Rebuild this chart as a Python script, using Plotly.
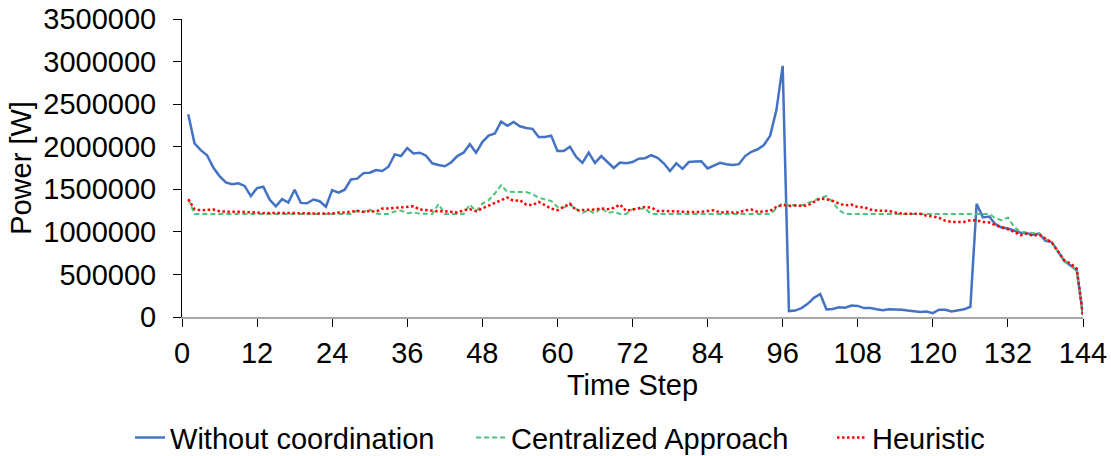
import plotly.graph_objects as go

time_steps = list(range(1, 145))

without_coordination = [
    2380000, 2040000, 1960000, 1900000, 1755000, 1655000, 1580000, 1560000, 1570000, 1540000,
    1420000, 1515000, 1530000, 1380000, 1300000, 1385000, 1345000, 1495000, 1340000, 1335000,
    1380000, 1360000, 1295000, 1490000, 1460000, 1495000, 1615000, 1625000, 1690000, 1695000,
    1725000, 1715000, 1765000, 1910000, 1890000, 1985000, 1920000, 1930000, 1895000, 1805000,
    1785000, 1770000, 1815000, 1890000, 1930000, 2030000, 1930000, 2055000, 2130000, 2155000,
    2295000, 2245000, 2290000, 2240000, 2220000, 2210000, 2115000, 2115000, 2130000, 1950000,
    1950000, 2000000, 1880000, 1810000, 1930000, 1810000, 1890000, 1825000, 1750000, 1815000,
    1805000, 1820000, 1860000, 1865000, 1900000, 1870000, 1805000, 1715000, 1805000, 1740000,
    1820000, 1825000, 1830000, 1745000, 1775000, 1810000, 1795000, 1785000, 1795000, 1890000,
    1940000, 1970000, 2020000, 2130000, 2430000, 2950000, 70000, 75000, 105000, 155000,
    225000, 270000, 90000, 95000, 115000, 110000, 135000, 130000, 105000, 105000,
    90000, 80000, 90000, 90000, 85000, 75000, 65000, 60000, 65000, 45000,
    85000, 85000, 65000, 75000, 90000, 120000, 1330000, 1170000, 1180000, 1090000,
    1050000, 1040000, 1015000, 990000, 985000, 965000, 980000, 895000, 880000, 770000,
    660000, 605000, 550000, 20000,
]

centralized = [
    1385000, 1210000, 1210000, 1210000, 1210000, 1210000, 1210000, 1210000, 1210000, 1210000,
    1210000, 1210000, 1210000, 1210000, 1210000, 1210000, 1210000, 1210000, 1210000, 1210000,
    1210000, 1210000, 1210000, 1210000, 1210000, 1210000, 1210000, 1250000, 1235000, 1260000,
    1215000, 1210000, 1210000, 1240000, 1250000, 1220000, 1225000, 1215000, 1210000, 1210000,
    1325000, 1210000, 1210000, 1210000, 1210000, 1320000, 1242000, 1332000, 1372000, 1450000,
    1548000, 1470000, 1470000, 1470000, 1468000, 1442000, 1403000, 1380000, 1364000, 1293000,
    1285000, 1321000, 1266000, 1223000, 1254000, 1215000, 1285000, 1223000, 1235000, 1210000,
    1210000, 1266000, 1266000, 1274000, 1210000, 1210000, 1210000, 1210000, 1210000, 1210000,
    1210000, 1210000, 1210000, 1210000, 1210000, 1210000, 1210000, 1210000, 1210000, 1210000,
    1210000, 1210000, 1210000, 1210000, 1274000, 1340000, 1313000, 1310000, 1310000, 1340000,
    1364000, 1400000, 1419000, 1352000, 1254000, 1210000, 1210000, 1210000, 1210000, 1210000,
    1210000, 1210000, 1210000, 1210000, 1210000, 1210000, 1210000, 1210000, 1210000, 1210000,
    1210000, 1210000, 1210000, 1210000, 1210000, 1210000, 1210000, 1210000, 1210000, 1160000,
    1137000, 1168000, 1058000, 1000000, 992000, 980000, 980000, 913000, 882000, 772000,
    654000, 615000, 548000, 20000,
]

heuristic = [
    1383000, 1266000, 1254000, 1254000, 1262000, 1242000, 1235000, 1235000, 1235000, 1235000,
    1227000, 1227000, 1220000, 1222000, 1218000, 1220000, 1225000, 1222000, 1218000, 1218000,
    1215000, 1215000, 1218000, 1215000, 1227000, 1227000, 1238000, 1246000, 1235000, 1246000,
    1235000, 1274000, 1274000, 1281000, 1285000, 1293000, 1301000, 1262000, 1254000, 1246000,
    1242000, 1242000, 1235000, 1227000, 1254000, 1266000, 1242000, 1274000, 1301000, 1332000,
    1364000, 1403000, 1364000, 1372000, 1321000, 1313000, 1352000, 1313000, 1274000, 1254000,
    1293000, 1332000, 1254000, 1254000, 1262000, 1262000, 1274000, 1266000, 1281000, 1321000,
    1246000, 1262000, 1270000, 1293000, 1285000, 1246000, 1246000, 1242000, 1238000, 1235000,
    1235000, 1231000, 1235000, 1246000, 1254000, 1227000, 1235000, 1227000, 1227000, 1254000,
    1262000, 1235000, 1242000, 1246000, 1293000, 1317000, 1305000, 1310000, 1305000, 1310000,
    1352000, 1391000, 1384000, 1364000, 1333000, 1310000, 1320000, 1290000, 1290000, 1262000,
    1250000, 1246000, 1246000, 1227000, 1215000, 1212000, 1215000, 1212000, 1190000, 1182000,
    1164000, 1129000, 1117000, 1117000, 1117000, 1137000, 1133000, 1117000, 1110000, 1078000,
    1058000, 1031000, 1000000, 960000, 980000, 953000, 968000, 921000, 874000, 772000,
    666000, 627000, 568000, 20000,
]

x_ticks = [0, 12, 24, 36, 48, 60, 72, 84, 96, 108, 120, 132, 144]
y_ticks = [0, 500000, 1000000, 1500000, 2000000, 2500000, 3000000, 3500000]

FONT = "Liberation Sans, Arial, sans-serif"
FS = 29

fig = go.Figure()
fig.add_trace(go.Scatter(
    x=time_steps, y=without_coordination, mode="lines", name="Without coordination",
    line=dict(color="#4472C4", width=2.5), legend="legend",
))
fig.add_trace(go.Scatter(
    x=time_steps, y=centralized, mode="lines", name="Centralized Approach",
    line=dict(color="#4CC47C", width=2, dash="5px,3px"), legend="legend2",
))
fig.add_trace(go.Scatter(
    x=time_steps, y=heuristic, mode="lines", name="Heuristic",
    line=dict(color="#FF0000", width=2.5, dash="2.5px,2.5px"), legend="legend3",
))

def legend_at(x):
    return dict(
        orientation="h", x=x, xanchor="left", y=-0.405, yanchor="middle",
        font=dict(family=FONT, size=FS, color="black"),
        bgcolor="rgba(0,0,0,0)",
    )

fig.update_layout(
    width=1111, height=456,
    margin=dict(l=182, r=28, t=19, b=139, autoexpand=False),
    paper_bgcolor="white", plot_bgcolor="white",
    font=dict(family=FONT, size=FS, color="black"),
    showlegend=True,
    legend=legend_at(-0.0577),
    legend2=legend_at(0.3208),
    legend3=legend_at(0.7214),
    xaxis=dict(
        range=[0, 144], tickmode="array", tickvals=x_ticks, ticktext=[str(v) for v in x_ticks],
        showgrid=False, zeroline=False, showline=True, linecolor="#A6A6A6", linewidth=1.5,
        ticks="outside", ticklen=8, tickwidth=1, tickcolor="black",
        ticklabelstandoff=1,
        title=dict(text="Time Step", standoff=4, font=dict(family=FONT, size=FS)),
        automargin=False,
    ),
    yaxis=dict(
        range=[0, 3500000], tickmode="array", tickvals=y_ticks, ticktext=[str(v) for v in y_ticks],
        showgrid=False, zeroline=False, showline=True, linecolor="black", linewidth=1,
        ticks="outside", ticklen=8, tickwidth=1, tickcolor="black",
        ticklabelstandoff=11,
        title=dict(text="Power [W]", standoff=3, font=dict(family=FONT, size=FS)),
        automargin=False,
    ),
)

fig.write_html("out.html")
